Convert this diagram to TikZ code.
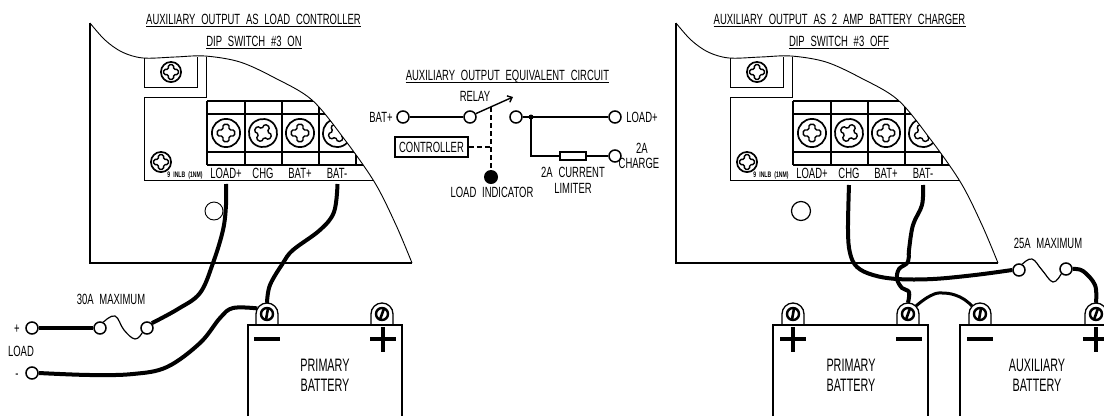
\documentclass[tikz,border=0pt]{standalone}
\usepackage{fontspec}
\usetikzlibrary{arrows.meta}
\setmainfont[FakeStretch=0.64,WordSpace=2.2]{Liberation Sans}
\newfontfamily\battfam[FakeStretch=0.6]{Liberation Sans}
\tikzset{
  lbl/.style={inner sep=0pt,font=\fontsize{14.8}{15}\selectfont,text height=10.6pt,text depth=0pt,align=center},
  ttl/.style={lbl},
  battlbl/.style={inner sep=0pt,font=\battfam\fontsize{18}{18}\selectfont,align=center},
  ul/.style={line width=1pt},
  hair/.style={line width=.9pt},
  frame/.style={line width=1.2pt},
  heavy/.style={line width=1.9pt},
  wire/.style={line width=4pt,line join=round},
  thinwire/.style={line width=1.2pt},
  term/.style={circle,draw,fill=white,line width=1.5pt,minimum size=12pt,inner sep=0pt},
  lugnode/.style={circle,minimum size=22pt,inner sep=0pt},
}
\newcommand{\screwmark}[4]{% x y radius angle
  \begin{scope}[shift={(#1,#2)},rotate=#4,scale=#3/12]
    \draw[line width=1.7pt] (0,0) circle[radius=#3 pt];
    \draw[line width=1.4pt,rounded corners=1.6pt] (-2.8,-2.8)--(-2.8,-8)--(2.8,-8)--(2.8,-2.8)--(8,-2.8)--(8,2.8)--(2.8,2.8)--(2.8,8)--(-2.8,8)--(-2.8,2.8)--(-8,2.8)--(-8,-2.8)--cycle;
  \end{scope}}
\newcommand{\lugmark}[3]{% name x angle
  \node[lugnode] (#1) at (#2,314) {};
  \draw[line width=1.3pt] (#2-11,325)--(#2-11,314) arc[start angle=180,end angle=0,radius=11pt]--(#2+11,325);
  \draw[line width=2.4pt] (#2,314) circle[radius=6pt];
  \draw[line width=2.6pt] (#2,314)+(#3:5.5pt)--+(#3+180:5.5pt);}
\newcommand{\minusmark}[1]{\draw[line width=3.2pt] (#1-13,339)--(#1+13,339);}
\newcommand{\plusmark}[1]{\draw[line width=3.2pt] (#1-13,339)--(#1+13,339) (#1,327)--(#1,352);}
\newcommand{\batterybody}[2]{\draw[frame] (#1,416)--(#1,325)--(#2,325)--(#2,416);}
\newcommand{\panelbody}[1]{%
  \draw[heavy] (90,23)--(90,263)--(412,263);
  \draw[hair] plot[smooth,tension=.55] coordinates {(90,23) (105,40) (122,52) (143,58) (175,57) (205,56) (240,62) (275,78) (312,100) (345,140) (375,183) (396,225) (412,263)};
  \draw[hair] (144,58)--(144,87)--(197,87)--(197,57);
  \draw[hair] (206,57)--(206,97)--(144,97)--(144,180)--(373,180);
  \screwmark{171}{72}{11}{0}
  \screwmark{161}{162}{11}{0}
  \begin{scope}
    \clip plot[smooth,tension=.55] coordinates {(90,23) (105,40) (122,52) (143,58) (175,57) (205,56) (240,62) (275,78) (312,100) (345,140) (375,183) (396,225) (412,263)} --(90,263)--cycle;
    \draw[heavy] (207,101)--(340,101);
    \draw[line width=2.2pt] (207,114)--(340,114);
    \draw[heavy] (207,152)--(370,152);
    \draw[line width=2.2pt] (207,165)--(370,165);
    \draw[heavy] (207,101)--(207,165) (245,101)--(245,165) (282,101)--(282,165) (319,101)--(319,165) (356,152)--(356,165);
    \screwmark{226}{133}{13}{0}
    \screwmark{263}{133}{13}{-30}
    \screwmark{300}{133}{13}{0}
    \screwmark{337}{133}{13}{25}
  \end{scope}
  \node[inner sep=0pt,font=\fontsize{8}{8}\selectfont\bfseries] (#1nm) at (185,175) {9 INLB (1NM)};
  \node[lbl] (#1a) at (226,173) {LOAD+};
  \node[lbl] (#1b) at (263,173) {CHG};
  \node[lbl] (#1c) at (300,173) {BAT+};
  \node[lbl] (#1d) at (337,173) {BAT-};
}
\begin{document}
\begin{tikzpicture}[x=1pt,y=-1pt]
\useasboundingbox (0,0) rectangle (1104,416);
\fill[white] (0,0) rectangle (1104,416);
% ---------- left panel
\panelbody{l}
\node[ttl] (lt1) at (253.5,19) {AUXILIARY OUTPUT AS LOAD CONTROLLER};
\node[ttl] (lt2) at (254,41) {DIP SWITCH \#3 ON};
\draw[ul] ([yshift=-2pt]lt1.south west)--([yshift=-2pt]lt1.south east);
\draw[ul] ([yshift=-2pt]lt2.south west)--([yshift=-2pt]lt2.south east);
\draw[hair] (214,211) circle[radius=9pt];
\coordinate (lloadt) at (226,184);
\coordinate (lbatt) at (337.5,184);
\node[term] (lplus) at (32,328) {};
\node[term] (lminus) at (32,373) {};
\node[term] (f1a) at (100,328) {};
\node[term] (f1b) at (147,328) {};
\lugmark{bp1}{267}{80}
\lugmark{bp2}{382}{70}
\batterybody{248}{402}
\minusmark{267}
\plusmark{383}
\draw[wire] plot[smooth,tension=.6] coordinates {(lloadt) (226,205) (223,230) (213,263) (200,293) (178,309) (f1b.45)};
\draw[wire] (lplus.east)--(f1a.west);
\draw[wire] plot[smooth,tension=.6] coordinates {(lminus.east) (90,375) (133,374) (167,367) (200,343) (220,318) (233,308) (bp1.150)};
\draw[wire] plot[smooth,tension=.6] coordinates {(lbatt) (334,212) (320,230) (293,250) (283,263) (270,285) (bp1.north)};
\draw[thinwire] plot[smooth,tension=.7] coordinates {(f1a.60) (115,316) (124,330) (135,339) (f1b.-135)};
\node[lbl] (l30) at (111,299) {30A MAXIMUM};
\node[lbl] (lp) at (17,328) {+};
\node[lbl] (ll) at (21,351) {LOAD};
\node[lbl] (lm) at (17,373) {-};
\node[battlbl] (bt1) at (325,365) {PRIMARY};
\node[battlbl] (bt2) at (325,385) {BATTERY};
% ---------- centre circuit
\node[ttl] (ct) at (507.5,75) {AUXILIARY OUTPUT EQUIVALENT CIRCUIT};
\draw[ul] ([yshift=-2pt]ct.south west)--([yshift=-2pt]ct.south east);
\node[lbl] (relay) at (475,96) {RELAY};
\node[lbl] (cb) at (381,117) {BAT+};
\node[term] (c1) at (403,117) {};
\node[term] (c2) at (470,117) {};
\node[term] (c3) at (516,117) {};
\node[term] (c4) at (615,117) {};
\node[term] (c5) at (615,156) {};
\node[circle,fill=black,minimum size=5pt,inner sep=0pt] (cj) at (531,117) {};
\node[draw,fill=white,line width=1.2pt,minimum width=26pt,minimum height=8pt,inner sep=0pt] (cr) at (573,156) {};
\node[draw,heavy,inner sep=0pt,minimum width=73pt,minimum height=20pt,font=\fontsize{14.8}{15}\selectfont] (ctrl) at (431.5,147) {CONTROLLER};
\node[circle,fill=black,minimum size=14pt,inner sep=0pt] (ci) at (491,177) {};
\coordinate (csw) at (513,97);
\coordinate (cda) at (491,107);
\coordinate (cdb) at (491,147);
\draw[line width=1.4pt] (c1)--(c2);
\draw[line width=1.4pt,-{Straight Barb[length=4pt,width=7pt]}] (c2.30)--(csw);
\draw[line width=1.4pt] (c3)--(c4);
\draw[line width=1.4pt] (cj.center)|-(cr.west);
\draw[line width=1.4pt] (cr.east)--(c5.west);
\draw[line width=1.9pt,dash pattern=on 5pt off 3pt] (cda)--(ci.north);
\draw[line width=1.9pt,dash pattern=on 5pt off 3pt] (ctrl.east)--(cdb);
\node[lbl] (cl1) at (642,117) {LOAD+};
\node[lbl] (cl2) at (642,148) {2A};
\node[lbl] (cl3) at (639,163) {CHARGE};
\node[lbl] (cl4) at (573,172) {2A CURRENT};
\node[lbl] (cl5) at (573,188) {LIMITER};
\node[lbl] (cl6) at (492,192) {LOAD INDICATOR};
% ---------- right panel
\begin{scope}[xshift=586pt]
\panelbody{r}
\end{scope}
\node[ttl] (rt1) at (839.5,19) {AUXILIARY OUTPUT AS 2 AMP BATTERY CHARGER};
\node[ttl] (rt2) at (839,41) {DIP SWITCH \#3 OFF};
\draw[ul] ([yshift=-2pt]rt1.south west)--([yshift=-2pt]rt1.south east);
\draw[ul] ([yshift=-2pt]rt2.south west)--([yshift=-2pt]rt2.south east);
\draw[line width=1.2pt] (801,211) circle[radius=9.5pt];
\coordinate (rchg) at (849,185);
\coordinate (rbat) at (923,185);
\node[term] (f2a) at (1019,270) {};
\node[term] (f2b) at (1066,269) {};
\lugmark{p1}{793}{80}
\lugmark{p2}{908}{70}
\lugmark{a1}{980}{80}
\lugmark{a2}{1096}{70}
\batterybody{773}{928}
\draw[frame] (960,416)--(960,325)--(1104,325);
\plusmark{793}
\minusmark{909}
\minusmark{980}
\begin{scope}
\clip (0,0) rectangle (1104,416);
\plusmark{1096}
\end{scope}
\draw[wire] plot[smooth,tension=.6] coordinates {(rbat) (922,205) (913,225) (909,250) (908,262) (899,269) (897,279) (902,288) (909,292) (p2.north)};
\draw[wire] plot[smooth,tension=.6] coordinates {(rchg) (848,230) (850,253) (857,267) (873,275) (897,279) (933,279) (975,275) (f2a.west)};
\draw[wire] plot[smooth,tension=.6] coordinates {(f2b.east) (1083,271) (1095,285) (a2.north)};
\draw[wire,line width=3pt] plot[smooth,tension=.8] coordinates {(p2.45) (930,296) (943,293) (960,297) (a1.135)};
\draw[thinwire] plot[smooth,tension=.7] coordinates {(f2a.60) (1032,259) (1042,270) (1053,282) (f2b.-135)};
\node[lbl] (r25) at (1048,243) {25A MAXIMUM};
\node[battlbl] (pb1) at (851,365) {PRIMARY};
\node[battlbl] (pb2) at (851,385) {BATTERY};
\node[battlbl] (ab1) at (1037,365) {AUXILIARY};
\node[battlbl] (ab2) at (1037,385) {BATTERY};
\end{tikzpicture}
\end{document}
